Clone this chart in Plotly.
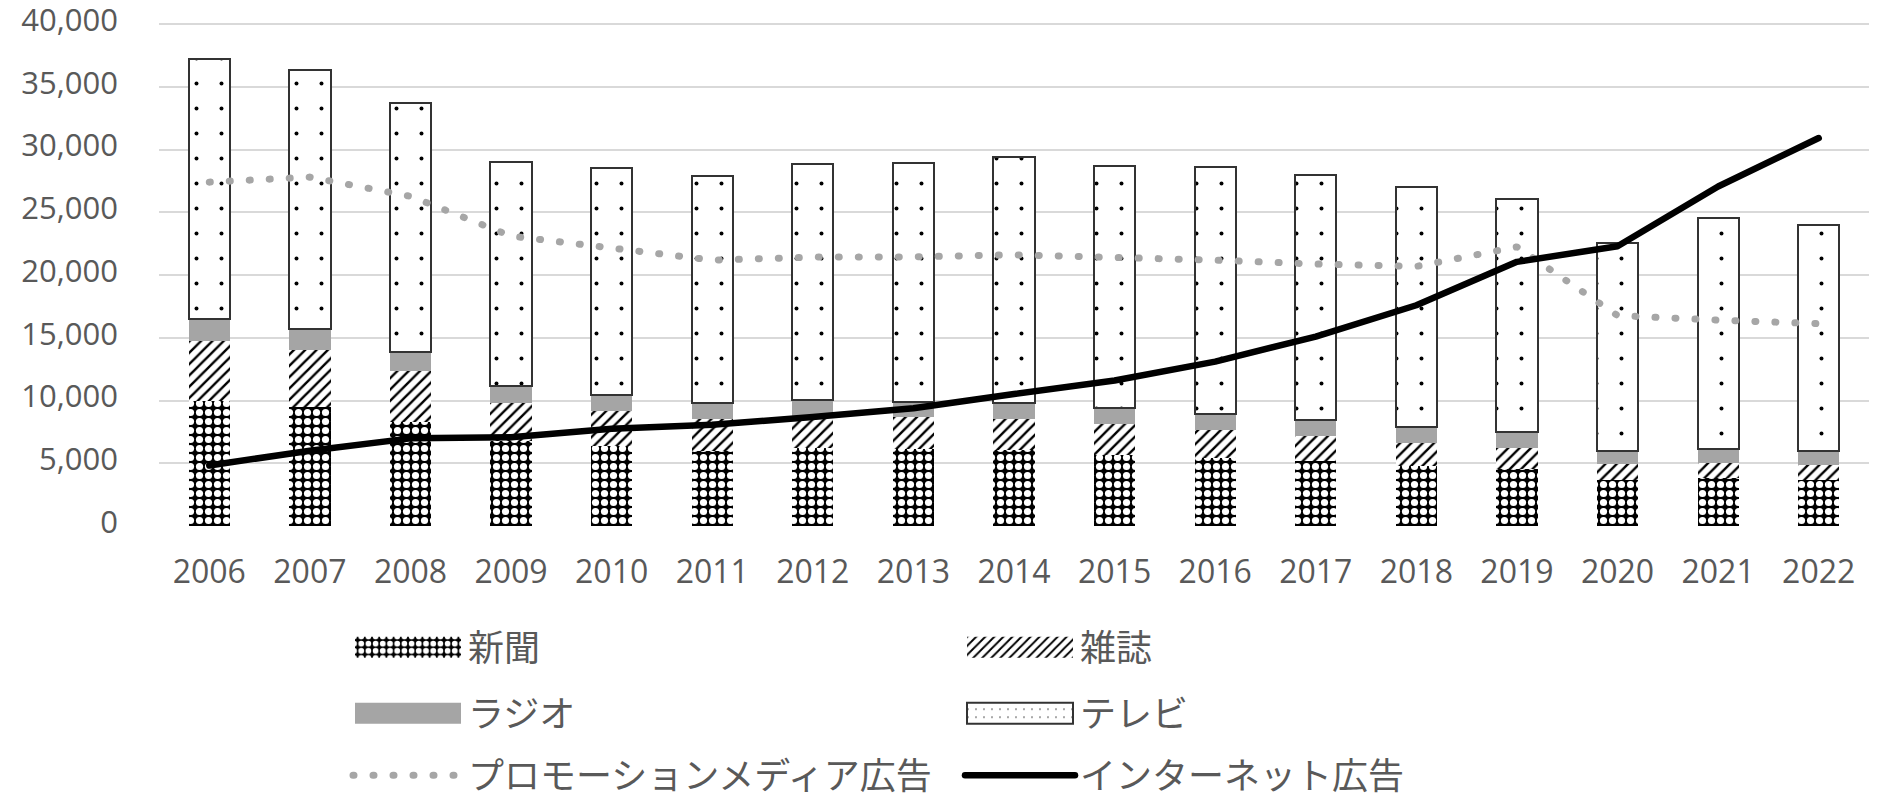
import plotly.graph_objects as go

years = [str(y) for y in range(2006, 2023)]
newspaper = [9986, 9462, 8276, 6739, 6396, 5990, 6242, 6170, 6057, 5679, 5431, 5147, 4784, 4547, 3688, 3815, 3697]
magazine = [4777, 4585, 4078, 3034, 2733, 2542, 2551, 2499, 2500, 2443, 2223, 2023, 1841, 1675, 1223, 1224, 1140]
radio = [1744, 1671, 1549, 1370, 1299, 1247, 1246, 1243, 1272, 1254, 1285, 1290, 1278, 1260, 1066, 1106, 1129]
tv = [20705, 20584, 19768, 17848, 18105, 18128, 18770, 19023, 19564, 19323, 19657, 19478, 19123, 18612, 16559, 18393, 18019]
promo = [27400, 27800, 26272, 23100, 22147, 21185, 21424, 21446, 21610, 21417, 21184, 20875, 20685, 22239, 16768, 16408, 16124]
internet = [4826, 6003, 6983, 7069, 7747, 8062, 8680, 9381, 10519, 11594, 13100, 15094, 17589, 21048, 22290, 27052, 30912]

names = ["新聞", "雑誌", "ラジオ", "テレビ", "プロモーションメディア広告", "インターネット広告"]
yticks = [0, 5000, 10000, 15000, 20000, 25000, 30000, 35000, 40000]

TXT = "#595959"
JP = "Noto Sans CJK JP"
NUM = "Open Sans"

fig = go.Figure()
fig.add_trace(go.Bar(
    x=years, y=newspaper, name=names[0], legend="legend",
    marker=dict(color="black",
                pattern=dict(shape=".", fgcolor="white", bgcolor="black", size=9, solidity=0.5, fillmode="replace"),
                line=dict(width=0)),
))
fig.add_trace(go.Bar(
    x=years, y=magazine, name=names[1], legend="legend",
    marker=dict(color="white",
                pattern=dict(shape="/", fgcolor="black", bgcolor="white", size=8, solidity=0.3, fillmode="replace"),
                line=dict(width=0)),
))
fig.add_trace(go.Bar(
    x=years, y=radio, name=names[2], legend="legend2",
    marker=dict(color="#A5A5A5", line=dict(width=0)),
))
fig.add_trace(go.Bar(
    x=years, y=tv, name=names[3], legend="legend2",
    marker=dict(color="white",
                pattern=dict(shape=".", fgcolor="black", bgcolor="white", size=25, solidity=0.02, fillmode="replace"),
                line=dict(width=2, color="#333333")),
))
fig.add_trace(go.Scatter(
    x=years, y=promo, name=names[4], mode="lines", legend="legend3",
    line=dict(color="#A6A6A6", width=7, dash="1px,19px"),
))
fig.add_trace(go.Scatter(
    x=years, y=internet, name=names[5], mode="lines", legend="legend3",
    line=dict(color="black", width=6.5),
))

W, H = 1878, 803
L, R, T, B = 159, 9, 21, 276.5
ph = H - T - B
ytop = 40000 + (24 - T) / (526.5 - 24) * 40000

def py(pix):
    return (H - B - pix) / ph

def px(pix):
    return (pix - L) / (W - L - R)

leg_common = dict(orientation="h", xanchor="left", yanchor="middle",
                  font=dict(family=JP, size=36, color=TXT),
                  itemwidth=110, bgcolor="rgba(0,0,0,0)", traceorder="normal")

fig.update_layout(
    width=W, height=H,
    margin=dict(l=L, r=R, t=T, b=B, autoexpand=False),
    paper_bgcolor="white", plot_bgcolor="white",
    barmode="stack", bargap=0.59,
    font=dict(family=JP, color=TXT),
    legend=dict(x=px(348), y=py(648), entrywidth=487, **leg_common),
    legend2=dict(x=px(348), y=py(714), entrywidth=487, **leg_common),
    legend3=dict(x=px(348), y=py(776), entrywidth=487, **leg_common),
    xaxis=dict(showgrid=False, showline=False, ticks="", tickfont=dict(family=NUM, size=32, color=TXT),
               ticklabelstandoff=24, automargin=False),
    yaxis=dict(range=[0, ytop], tickvals=yticks, tickformat=",d", showgrid=True, gridcolor="#D9D9D9",
               gridwidth=2, zeroline=False, showline=False, tickfont=dict(family=NUM, size=31, color=TXT),
               ticklabelstandoff=40, ticklabelshift=-4, ticklabeloverflow="allow", automargin=False),
)

post = """
(function(){
  var gd = document.getElementById('{plot_id}');
  function fix(){
    gd.querySelectorAll('g.legendpoints path').forEach(function(p){
      var d = p.getAttribute('d') || '';
      if (d.indexOf('M6,6H-6V-6H6Z') === 0 || p.classList.contains('legendbar')) {
        if (d !== 'M53,10.5H-53V-10.5H53Z') { p.setAttribute('d', 'M53,10.5H-53V-10.5H53Z'); }
      }
    });
    gd.querySelectorAll('path.js-line').forEach(function(p){
      if (p.style.strokeLinecap !== 'round') { p.style.strokeLinecap = 'round'; p.style.strokeLinejoin = 'round'; }
    });
  }
  fix();
  if (gd.on) { gd.on('plotly_afterplot', fix); }
  [0, 50, 150, 300, 600, 1000, 2000].forEach(function(t){ setTimeout(fix, t); });
})();
"""

fig.write_html("out.html", post_script=post)
